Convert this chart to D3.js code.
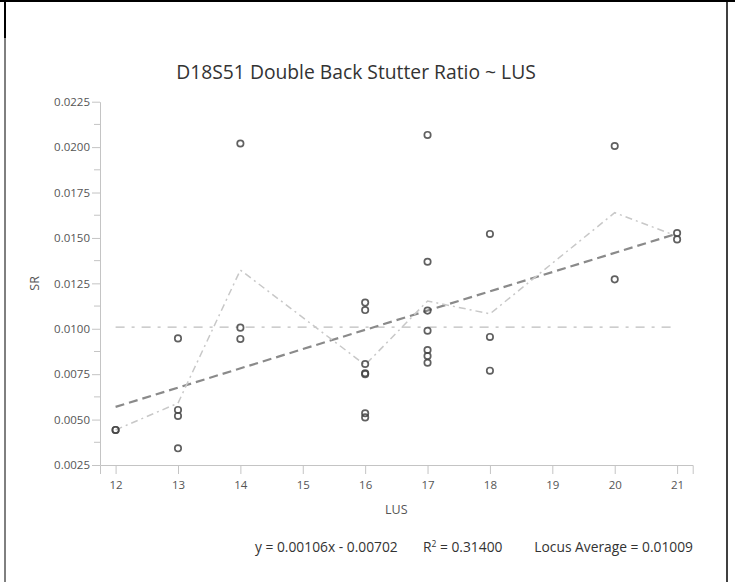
<!DOCTYPE html>
<html>
<head>
<meta charset="utf-8">
<script src="https://cdn.jsdelivr.net/npm/d3@7"></script>
<style>
  html, body { margin: 0; padding: 0; background: #fff; }
  svg { display: block; font-family: "Open Sans", "Noto Sans", sans-serif; }
</style>
</head>
<body>
<svg id="chart" width="735" height="582"></svg>
<script>
// ---- data ----
const title = "D18S51 Double Back Stutter Ratio ~ LUS";
const xLabel = "LUS";
const yLabel = "SR";
const lus = [12, 12, 13, 13, 13, 13, 14, 14, 14,
             16, 16, 16, 16, 16, 16, 16,
             17, 17, 17, 17, 17, 17, 17,
             18, 18, 18, 20, 20, 21, 21];
const sr  = [0.00443, 0.00443, 0.00947, 0.00553, 0.00520, 0.00342, 0.02020, 0.01006, 0.00944,
             0.01144, 0.01103, 0.00806, 0.00755, 0.00750, 0.00535, 0.00512,
             0.02067, 0.01369, 0.01100, 0.00989, 0.00883, 0.00850, 0.00813,
             0.01522, 0.00955, 0.00769, 0.02006, 0.01272, 0.01527, 0.01492];
const xTicks = [12, 13, 14, 15, 16, 17, 18, 19, 20, 21];
const yTicks = [0.0025, 0.0050, 0.0075, 0.0100, 0.0125, 0.0150, 0.0175, 0.0200, 0.0225];
const yMinorTicks = [0.00375, 0.00625, 0.00875, 0.01125, 0.01375, 0.01625, 0.01875, 0.02125];
const slope = 0.00106;
const intercept = -0.00702;
const rSquared = 0.31400;
const locusAverage = 0.01009;

// ---- drawing ----
const svg = d3.select("#chart");

// frame
svg.append("line").attr("x1", 0).attr("x2", 735).attr("y1", 1).attr("y2", 1)
  .attr("stroke", "#000").attr("stroke-width", 2);
svg.append("line").attr("x1", 5).attr("x2", 5).attr("y1", 0).attr("y2", 38)
  .attr("stroke", "#000").attr("stroke-width", 2);
svg.append("line").attr("x1", 5).attr("x2", 5).attr("y1", 38).attr("y2", 582)
  .attr("stroke", "#000").attr("stroke-width", 1);
svg.append("line").attr("x1", 727).attr("x2", 727).attr("y1", 0).attr("y2", 582)
  .attr("stroke", "#000").attr("stroke-width", 1.5);

const x = d3.scaleLinear().domain([11.75, 21.25]).range([100, 692.7]);
const y = d3.scaleLinear().domain([0.0025, 0.0225]).range([465, 101.7]);

// title
svg.append("text").attr("x", 356).attr("y", 79).attr("text-anchor", "middle")
  .attr("font-size", 19.3).attr("fill", "#333").text(title);

// x axis
const gx = svg.append("g").attr("transform", `translate(0,${y(0.0025)})`)
  .call(d3.axisBottom(x).tickValues(xTicks).tickFormat(d3.format("d"))
        .tickSize(9).tickSizeOuter(9).tickPadding(7));
gx.selectAll("path, line").attr("stroke", "#c4c4c4");
gx.selectAll("text").attr("fill", "#555").attr("font-size", 11.5)
  .attr("font-family", "'Open Sans', sans-serif");

// y axis
const gy = svg.append("g").attr("transform", `translate(${x(11.75)},0)`)
  .call(d3.axisLeft(y).tickValues(yTicks).tickFormat(d3.format(".4f"))
        .tickSize(8).tickSizeOuter(0).tickPadding(2));
gy.selectAll("path, line").attr("stroke", "#c4c4c4");
gy.selectAll("text").attr("fill", "#555").attr("font-size", 11.5)
  .attr("font-family", "'Open Sans', sans-serif");
gy.selectAll(".minor").data(yMinorTicks).enter().append("line")
  .attr("class", "minor").attr("x1", -6).attr("x2", 0)
  .attr("y1", d => y(d)).attr("y2", d => y(d)).attr("stroke", "#c4c4c4");

// axis labels
svg.append("text").attr("x", (x.range()[0] + x.range()[1]) / 2).attr("y", 514)
  .attr("text-anchor", "middle").attr("font-size", 12.5).attr("fill", "#555").text(xLabel);
svg.append("text").attr("transform", `translate(39,${(y.range()[0] + y.range()[1]) / 2}) rotate(-90)`)
  .attr("text-anchor", "middle").attr("font-size", 12.5).attr("fill", "#555").text(yLabel);

const xMin = d3.min(lus), xMax = d3.max(lus);

// locus average line
svg.append("line").attr("x1", x(xMin)).attr("x2", x(xMax))
  .attr("y1", y(locusAverage)).attr("y2", y(locusAverage))
  .attr("stroke", "#bdbdbd").attr("stroke-width", 1.3).attr("stroke-dasharray", "9,7,3,7");

// regression line
svg.append("line").attr("x1", x(xMin)).attr("x2", x(xMax))
  .attr("y1", y(slope * xMin + intercept)).attr("y2", y(slope * xMax + intercept))
  .attr("stroke", "#8a8a8a").attr("stroke-width", 2.2).attr("stroke-dasharray", "9,5");

// mean-per-LUS line
const points = lus.map((v, i) => ({ lus: v, sr: sr[i] }));
const means = Array.from(d3.rollup(points, v => d3.mean(v, d => d.sr), d => d.lus))
  .sort((a, b) => a[0] - b[0]);
svg.append("path").datum(means)
  .attr("d", d3.line().x(d => x(d[0])).y(d => y(d[1])))
  .attr("fill", "none").attr("stroke", "#c8c8c8").attr("stroke-width", 1.5)
  .attr("stroke-dasharray", "7,4,2,4");

// points
svg.append("g").selectAll("circle").data(points).enter().append("circle")
  .attr("cx", d => x(d.lus)).attr("cy", d => y(d.sr)).attr("r", 3.2)
  .attr("fill", "none").attr("stroke", "#444").attr("stroke-opacity", 0.85)
  .attr("stroke-width", 1.7);

// footer
const f = svg.append("text").attr("y", 552).attr("font-size", 13.8).attr("fill", "#333");
f.append("tspan").attr("x", 255).text(`y = ${slope.toFixed(5)}x - ${Math.abs(intercept).toFixed(5)}`);
f.append("tspan").attr("x", 423).text("R");
f.append("tspan").attr("dy", -5).attr("font-size", 8.5).text("2");
f.append("tspan").attr("dy", 5).text(` = ${rSquared.toFixed(5)}`);
svg.append("text").attr("x", 693).attr("y", 552).attr("text-anchor", "end")
  .attr("font-size", 13.8).attr("fill", "#333")
  .text(`Locus Average = ${locusAverage.toFixed(5)}`);
</script>
</body>
</html>
